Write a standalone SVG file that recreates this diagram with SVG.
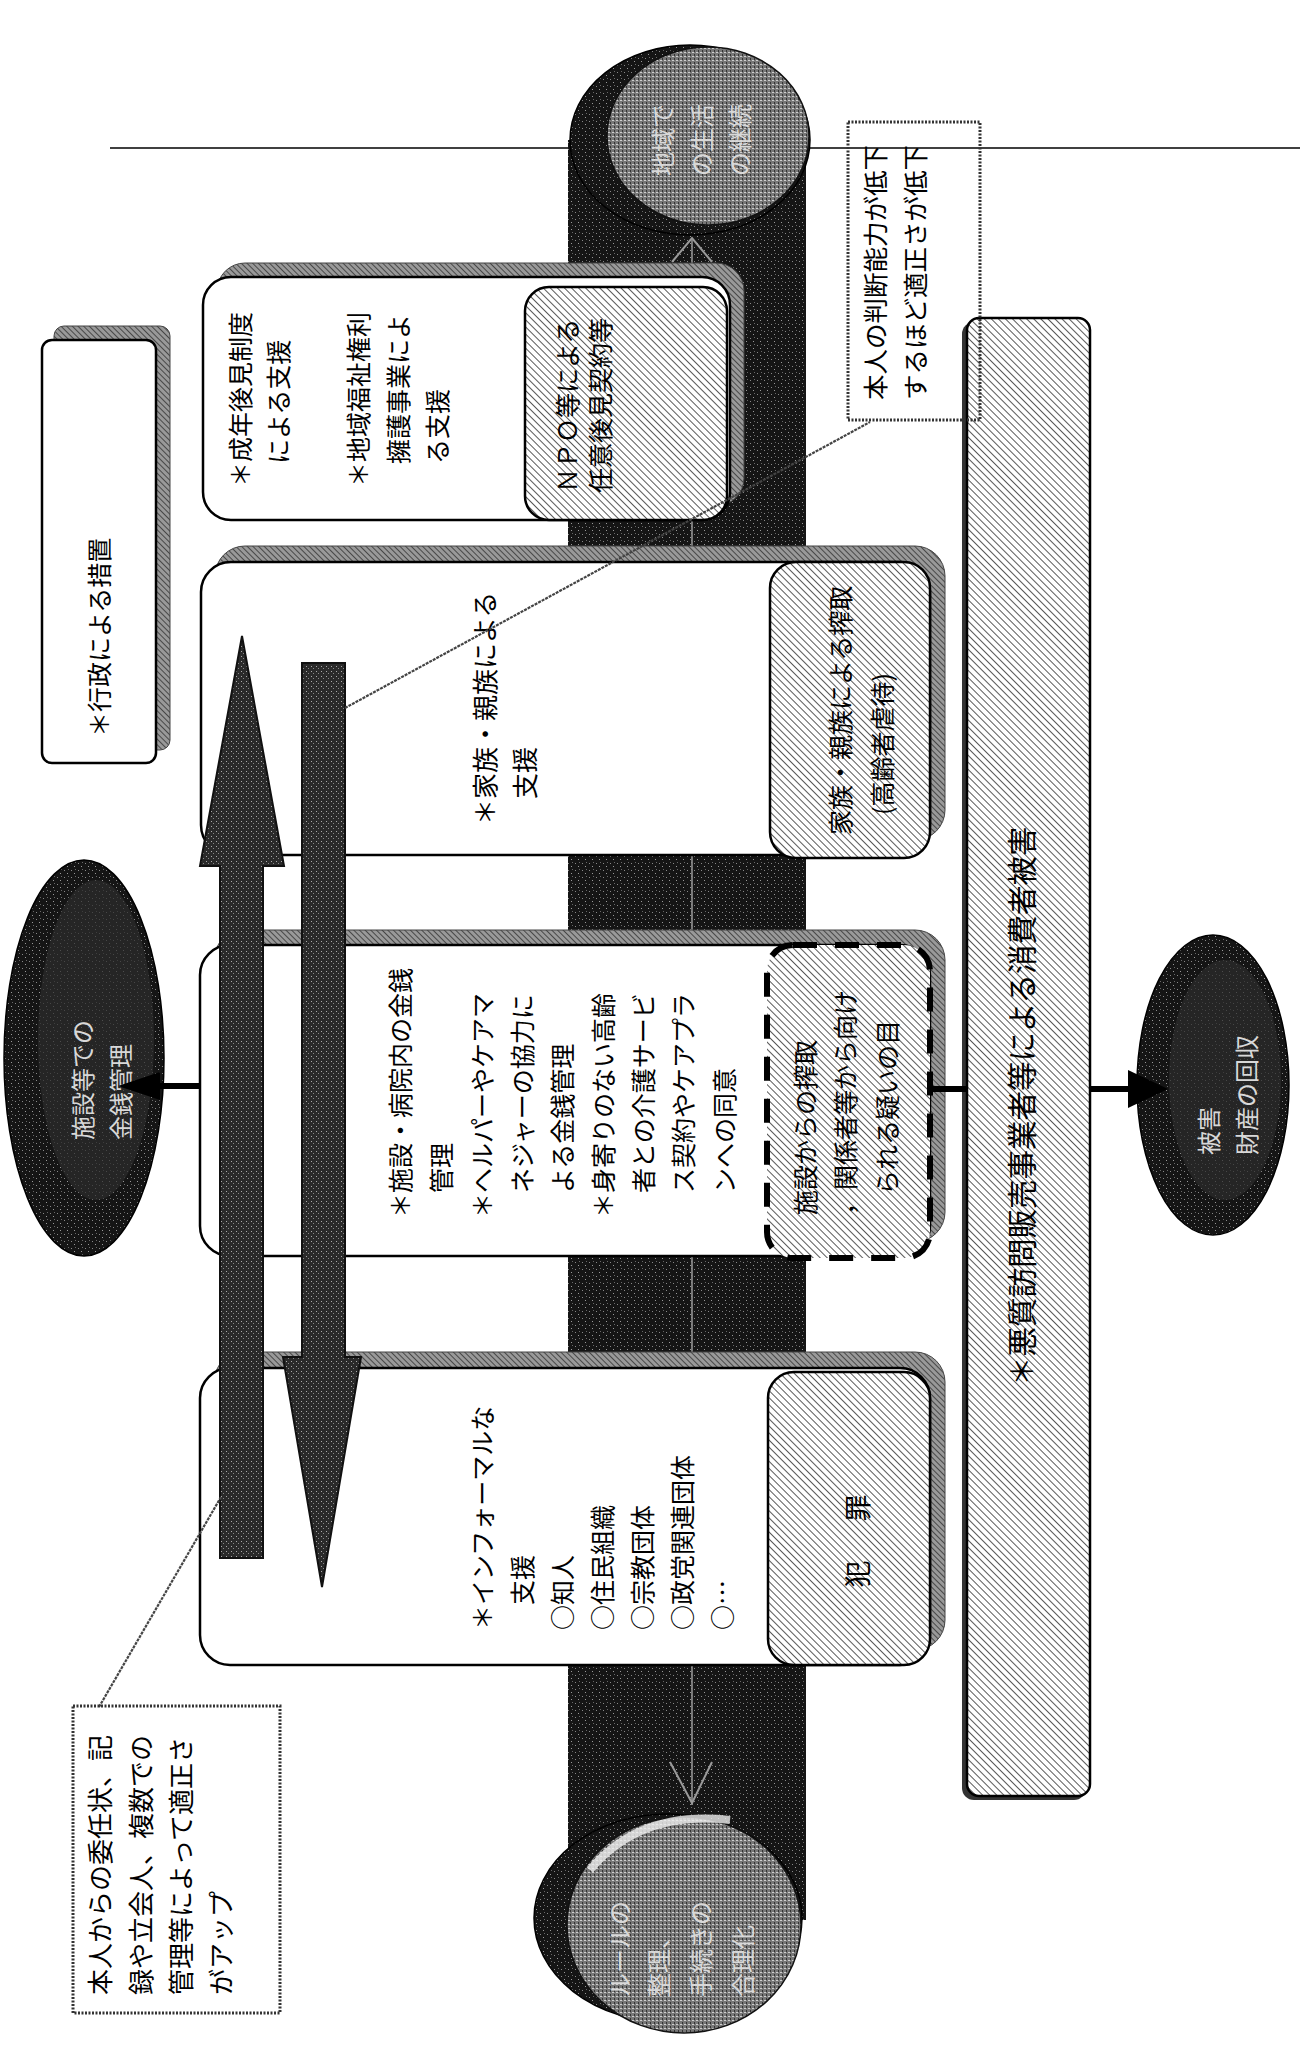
<svg xmlns="http://www.w3.org/2000/svg" width="1300" height="2063" viewBox="0 0 1300 2063">
<defs>
<pattern id="hatch" patternUnits="userSpaceOnUse" width="5" height="5" patternTransform="rotate(-45)">
<rect width="5" height="5" fill="#fff"/>
<line x1="0" y1="0" x2="0" y2="5" stroke="#111" stroke-width="1.4"/>
</pattern>
<pattern id="shade" patternUnits="userSpaceOnUse" width="4" height="4" patternTransform="rotate(-45)">
<rect width="4" height="4" fill="#999"/>
<line x1="0" y1="0" x2="0" y2="4" stroke="#333" stroke-width="1.6"/>
</pattern>
<pattern id="stip" patternUnits="userSpaceOnUse" width="7" height="7">
<rect width="7" height="7" fill="#151515"/>
<rect x="1" y="2" width="1" height="1" fill="#888"/>
<rect x="4" y="5" width="1" height="1" fill="#999"/>
<rect x="5" y="1" width="1" height="1" fill="#666"/>
</pattern>
<pattern id="stip2" patternUnits="userSpaceOnUse" width="5" height="5">
<rect width="5" height="5" fill="#2a2a2a"/>
<rect x="1" y="1" width="1" height="1" fill="#aaa"/>
<rect x="3" y="3" width="1" height="1" fill="#888"/>
</pattern>
<pattern id="face" patternUnits="userSpaceOnUse" width="4" height="4">
<rect width="4" height="4" fill="#777"/>
<rect x="0" y="0" width="2" height="1" fill="#cfcfcf"/>
<rect x="2" y="2" width="1" height="2" fill="#333"/>
</pattern>
<style>
.box{fill:#fff;stroke:#000;stroke-width:2.5}
.shadow{fill:url(#shade);stroke:#444;stroke-width:1}
.sub{fill:url(#hatch);stroke:#000;stroke-width:2.5}
.t{font-family:"Noto Sans CJK JP","Noto Sans",sans-serif;font-size:25px;fill:#000}
.tl{font-family:"Noto Sans CJK JP","Noto Sans",sans-serif;font-size:24px;fill:#d8d8d8}
.callout{fill:none;stroke:#333;stroke-width:3;stroke-dasharray:2 1.5}
.dark{fill:url(#stip);stroke:#000;stroke-width:1.5}
.arrow{fill:url(#stip2);stroke:#111;stroke-width:2}
.conn{stroke:#000;stroke-width:6;fill:none}
.lead{stroke:#444;stroke-width:2.2;fill:none;stroke-dasharray:3 1}
</style>
</defs>
<rect width="1300" height="2063" fill="#fff"/>

<g id="rule-line">
<line x1="110" y1="148" x2="1300" y2="148" stroke="#000" stroke-width="1.5"/>
</g>

<g id="cylinder">
<rect x="568" y="140" width="238" height="1780" fill="url(#stip)"/>
<line x1="692" y1="240" x2="692" y2="1805" stroke="#9a9a9a" stroke-width="1.5"/>
<path d="M672 262 L692 238 L712 262" fill="none" stroke="#9a9a9a" stroke-width="2"/>
<path d="M670 1762 L692 1803 L712 1762" fill="none" stroke="#9a9a9a" stroke-width="2"/>
<ellipse cx="690" cy="140" rx="120" ry="95" class="dark"/>
<ellipse cx="708" cy="136" rx="101" ry="89" fill="url(#face)" stroke="#111" stroke-width="1.5"/>
<text class="tl" transform="translate(672,176) rotate(-90)"><tspan x="0" y="0">地域で</tspan><tspan x="0" dy="39">の生活</tspan><tspan x="0" dy="38">の継続</tspan></text>
<ellipse cx="668" cy="1918" rx="134" ry="104" class="dark"/>
<ellipse cx="684" cy="1925" rx="117" ry="108" fill="url(#face)" stroke="#111" stroke-width="1.5"/>
<path d="M590 1870 Q640 1810 730 1820" fill="none" stroke="#eee" stroke-width="8" opacity="0.8"/>
<text class="tl" transform="translate(629,1997) rotate(-90)"><tspan x="0" y="0">ルールの</tspan><tspan x="0" dy="39">整理、</tspan><tspan x="0" dy="42">手続きの</tspan><tspan x="0" dy="42">合理化</tspan></text>
</g>

<g id="node-gyosei">
<rect x="54" y="326" width="116" height="424" rx="10" class="shadow"/>
<rect x="42" y="340" width="114" height="423" rx="10" class="box"/>
<text class="t" transform="translate(108.5,737) rotate(-90)">＊行政による措置</text>
</g>

<g id="node-seinen">
<rect x="217" y="263" width="527" height="243" rx="28" class="shadow"/>
<rect x="203" y="277" width="527" height="243" rx="28" class="box"/>
<rect x="525" y="287" width="202" height="233" rx="24" class="sub"/>
<text class="t" transform="translate(249.5,487) rotate(-90)"><tspan x="0" y="0">＊成年後見制度</tspan><tspan x="23" dy="38">による支援</tspan><tspan x="0" dy="80">＊地域福祉権利</tspan><tspan x="23" dy="40">擁護事業によ</tspan><tspan x="23" dy="39">る支援</tspan></text>
<text class="t" transform="translate(576.5,493) rotate(-90)"><tspan x="0" y="0">ＮＰＯ等による</tspan><tspan x="0" dy="33">任意後見契約等</tspan></text>
</g>

<g id="node-kazoku">
<rect x="215" y="546" width="730" height="294" rx="30" class="shadow"/>
<rect x="201" y="562" width="729" height="293" rx="30" class="box"/>
<rect x="770" y="562" width="160" height="296" rx="26" class="sub"/>
<text class="t" style="font-size:26px" transform="translate(494.5,825) rotate(-90)"><tspan x="0" y="0">＊家族・親族による</tspan><tspan x="26" dy="40">支援</tspan></text>
<text class="t" transform="translate(849.5,835) rotate(-90)"><tspan x="0" y="0">家族・親族による搾取</tspan><tspan x="20" dy="42">(高齢者虐待)</tspan></text>
</g>

<g id="node-shisetsu">
<rect x="214" y="930" width="731" height="312" rx="30" class="shadow"/>
<rect x="200" y="945" width="730" height="311" rx="30" class="box"/>
<rect x="767" y="945" width="163" height="313" rx="26" fill="url(#hatch)" stroke="#000" stroke-width="6" stroke-dasharray="24 18"/>
<text class="t" transform="translate(409.5,1218) rotate(-90)"><tspan x="0" y="0">＊施設・病院内の金銭</tspan><tspan x="25" dy="41">管理</tspan><tspan x="0" dy="41">＊ヘルパーやケアマ</tspan><tspan x="25" dy="40">ネジャーの協力に</tspan><tspan x="25" dy="40">よる金銭管理</tspan><tspan x="0" dy="41">＊身寄りのない高齢</tspan><tspan x="25" dy="40">者との介護サービ</tspan><tspan x="25" dy="40">ス契約やケアプラ</tspan><tspan x="25" dy="41">ンへの同意</tspan></text>
<text class="t" transform="translate(814.5,1215) rotate(-90)"><tspan x="0" y="0">施設からの搾取</tspan><tspan x="0" dy="40">，関係者等から向け</tspan><tspan x="20" dy="42">られる疑いの目</tspan></text>
</g>

<g id="node-informal">
<rect x="214" y="1352" width="731" height="298" rx="30" class="shadow"/>
<rect x="200" y="1368" width="730" height="297" rx="30" class="box"/>
<rect x="768" y="1372" width="162" height="293" rx="26" class="sub"/>
<text class="t" transform="translate(491.5,1630) rotate(-90)"><tspan x="0" y="0">＊インフォーマルな</tspan><tspan x="25" dy="40">支援</tspan><tspan x="0" dy="40">○知人</tspan><tspan x="0" dy="40">○住民組織</tspan><tspan x="0" dy="40">○宗教団体</tspan><tspan x="0" dy="40">○政党関連団体</tspan><tspan x="0" dy="40">○…</tspan></text>
<text class="t" text-anchor="middle" style="font-size:27px;letter-spacing:6px" transform="translate(868,1538) rotate(-90)">犯　罪</text>
</g>

<g id="node-akushitsu">
<rect x="962" y="322" width="124" height="1478" rx="12" fill="#333"/>
<rect x="967" y="318" width="123" height="1478" rx="12" fill="url(#hatch)" stroke="#000" stroke-width="2.5"/>
<text class="t" style="font-size:29.5px" transform="translate(1033,1386) rotate(-90)">＊悪質訪問販売事業者等による消費者被害</text>
</g>

<g id="node-left-ellipse">
<ellipse cx="84" cy="1058" rx="80" ry="198" class="dark"/>
<ellipse cx="96" cy="1040" rx="58" ry="160" fill="#2c2c2c" opacity="0.7"/>
<text class="tl" transform="translate(92,1140) rotate(-90)"><tspan x="0" y="0">施設等での</tspan><tspan x="0" dy="38">金銭管理</tspan></text>
</g>

<g id="node-right-ellipse">
<ellipse cx="1213" cy="1085" rx="76" ry="150" class="dark"/>
<ellipse cx="1225" cy="1080" rx="56" ry="120" fill="#2c2c2c" opacity="0.7"/>
<text class="tl" transform="translate(1218,1155) rotate(-90)"><tspan x="0" y="0">被害</tspan><tspan x="0" dy="38">財産の回収</tspan></text>
</g>

<g id="arrows">
<polygon class="arrow" points="220,1558 263,1558 263,866 284,866 242,636 200,866 220,866"/>
<polygon class="arrow" points="302,663 345,663 345,1357 361,1357 322,1587 283,1357 302,1357"/>
</g>

<g id="connectors">
<line class="conn" x1="200" y1="1086" x2="158" y2="1086"/>
<polygon points="160,1072 160,1100 118,1086" fill="#000"/>
<line class="conn" x1="930" y1="1089" x2="967" y2="1089"/>
<line class="conn" x1="1090" y1="1089" x2="1130" y2="1089"/>
<polygon points="1128,1070 1128,1108 1168,1089" fill="#000"/>
<line class="lead" x1="345" y1="708" x2="870" y2="422"/>
<line class="lead" x1="99" y1="1707" x2="221" y2="1497"/>
</g>

<g id="callout-hanndan">
<rect x="848" y="122" width="132" height="298" class="callout"/>
<text class="t" style="font-size:25.5px" transform="translate(884.5,400) rotate(-90)"><tspan x="0" y="0">本人の判断能力が低下</tspan><tspan x="0" dy="40">するほど適正さが低下</tspan></text>
</g>

<g id="callout-up">
<rect x="73" y="1706" width="207" height="307" fill="#fff" class="callout"/>
<text class="t" style="font-size:26px" transform="translate(110,1995) rotate(-90)"><tspan x="0" y="0">本人からの委任状、記</tspan><tspan x="0" dy="41">録や立会人、複数での</tspan><tspan x="0" dy="40">管理等によって適正さ</tspan><tspan x="0" dy="40">がアップ</tspan></text>
</g>
</svg>
